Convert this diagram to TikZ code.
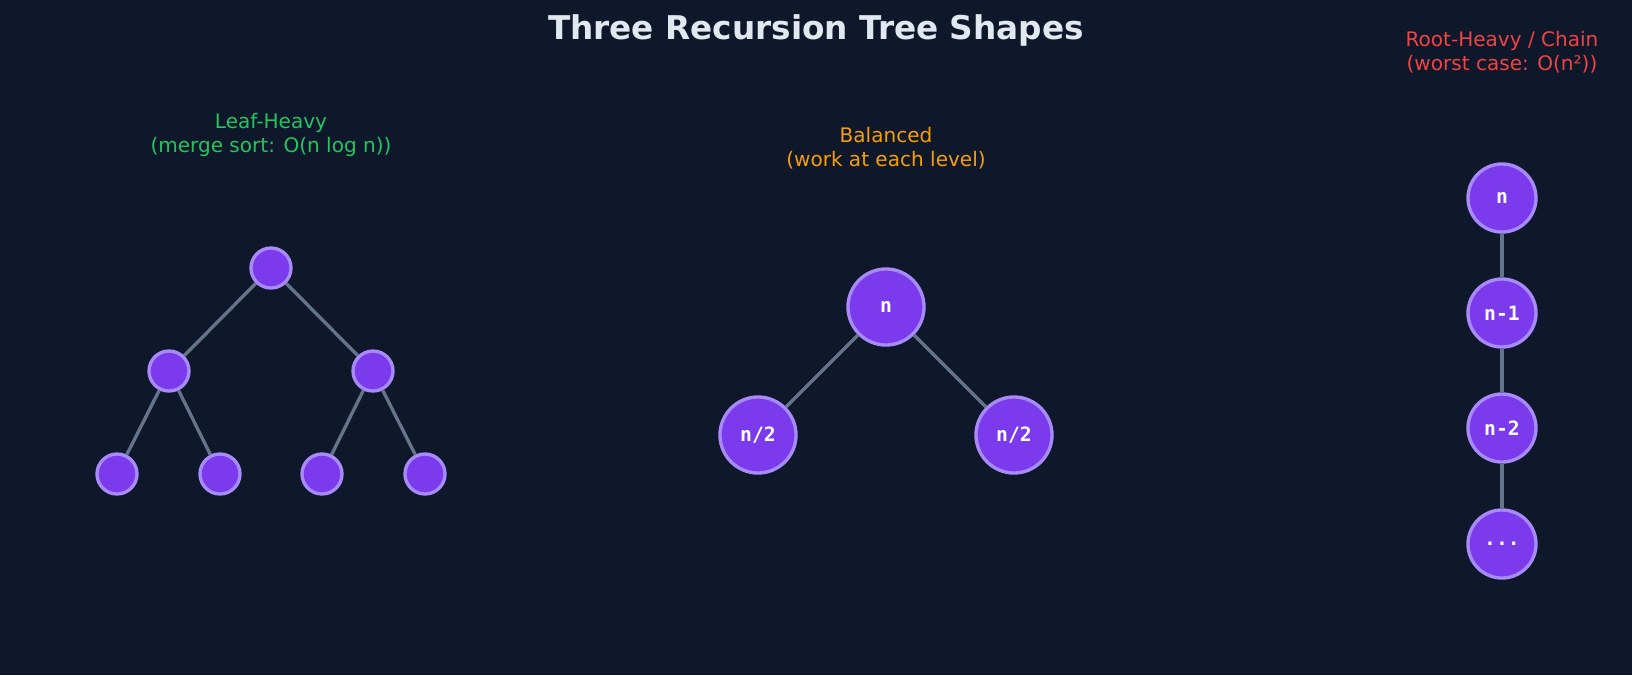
\documentclass[tikz,border=0pt]{standalone}
\usepackage{fontspec}
\setmainfont{DejaVu Sans}
\setmonofont{DejaVu Sans Mono}
\usepackage{xcolor}
\usetikzlibrary{positioning}
\definecolor{bgdark}{HTML}{0F172A}
\definecolor{nodefill}{HTML}{7C3AED}
\definecolor{nodeline}{HTML}{A78BFA}
\definecolor{edgegray}{HTML}{64748B}
\definecolor{titlecol}{HTML}{E2E8F0}
\definecolor{leafcol}{HTML}{22C55E}
\definecolor{balcol}{HTML}{F59E0B}
\definecolor{rootcol}{HTML}{EF4444}
\begin{document}
\begin{tikzpicture}[
    x=0.01cm, y=-0.01cm,
    tnode/.style={circle, draw=nodeline, fill=nodefill, line width=0.95pt, inner sep=0pt,
        text=white, font=\ttfamily\bfseries\fontsize{5.6}{6.6}\selectfont},
    small/.style={tnode, minimum size=0.4cm},
    mid/.style={tnode, minimum size=0.76cm},
    chain/.style={tnode, minimum size=0.68cm},
    edge/.style={draw=edgegray, line width=0.95pt},
    caption/.style={align=center, font=\fontsize{5.7}{6.9}\selectfont}
]
\fill[bgdark] (0,0) rectangle (1632,675);
\node[text=titlecol, font=\bfseries\fontsize{9.3}{11}\selectfont] (title) at (816,30) {Three Recursion Tree Shapes};

% leaf-heavy
\node[caption, text=leafcol] (capl) at (271,135) {Leaf-Heavy\\(merge sort: O(n log n))};
\node[small] (a) at (271,268) {};
\node[small] (b) at (169,371) {};
\node[small] (c) at (373,371) {};
\node[small] (b1) at (117,474) {};
\node[small] (b2) at (220,474) {};
\node[small] (c1) at (322,474) {};
\node[small] (c2) at (425,474) {};
\draw[edge] (a) -- (b);
\draw[edge] (a) -- (c);
\draw[edge] (b) -- (b1);
\draw[edge] (b) -- (b2);
\draw[edge] (c) -- (c1);
\draw[edge] (c) -- (c2);

% balanced
\node[caption, text=balcol] (capb) at (886,148) {Balanced\\(work at each level)};
\node[mid] (n) at (886,307) {n};
\node[mid] (h1) at (758,435) {n/2};
\node[mid] (h2) at (1014,435) {n/2};
\draw[edge] (n) -- (h1);
\draw[edge] (n) -- (h2);

% chain
\node[caption, text=rootcol] (capr) at (1502,52) {Root-Heavy / Chain\\(worst case: O(n²))};
\node[chain] (r0) at (1502,198) {n};
\node[chain] (r1) at (1502,313) {n-1};
\node[chain] (r2) at (1502,428) {n-2};
\node[chain] (r3) at (1502,544) {...};
\draw[edge] (r0) -- (r1);
\draw[edge] (r1) -- (r2);
\draw[edge] (r2) -- (r3);
\end{tikzpicture}
\end{document}
